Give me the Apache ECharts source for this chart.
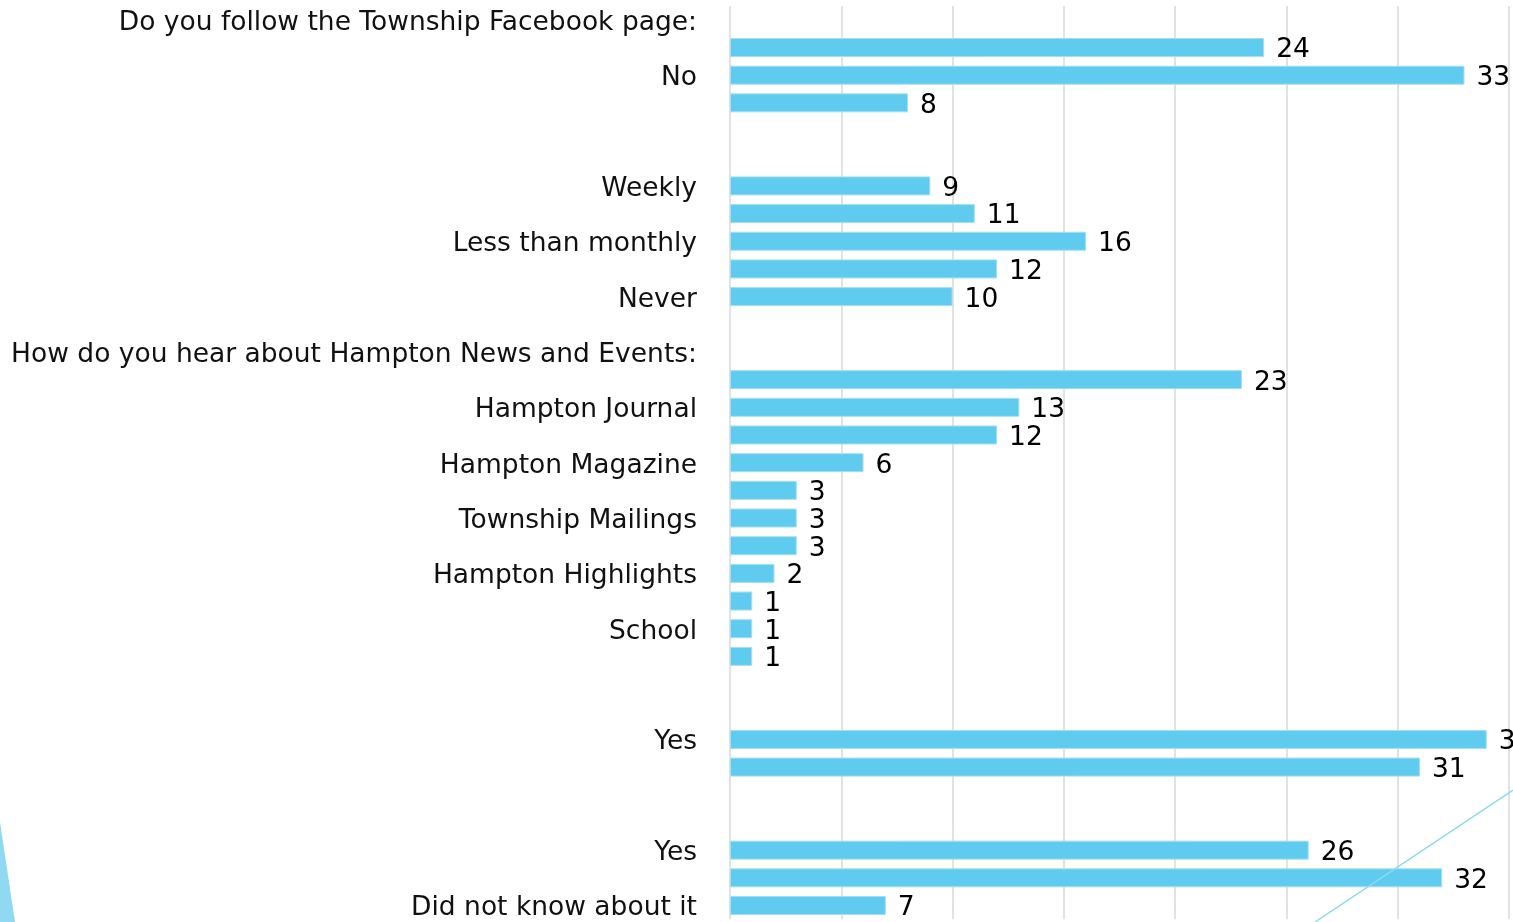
<!DOCTYPE html>
<html>
<head>
<meta charset="utf-8">
<script src="https://cdn.jsdelivr.net/npm/echarts@6/dist/echarts.min.js"></script>
<style>
html,body{margin:0;padding:0;background:#fff;}
#chart{width:1513px;height:922px;}
</style>
</head>
<body>
<div id="chart"></div>
<script>
// Categories, top to bottom (every other label is shown, as in the original)
const categories = [
  "Do you follow the Township Facebook page:",
  "Yes",
  "No",
  "Did not know about it ",
  "",
  "How often do you visit:",
  "Weekly",
  "Monthly",
  "Less than monthly",
  "Rarely",
  "Never",
  " ",
  "How do you hear about Hampton News and Events:",
  "Township Website",
  "Hampton Journal",
  "Facebook",
  "Hampton Magazine",
  "Newspaper",
  "Township Mailings",
  "Word of mouth",
  "Hampton Highlights",
  "Email",
  "School",
  "Other",
  "  ",
  "Question 3:",
  "Yes",
  "No",
  "   ",
  "Question 4:",
  "Yes",
  "No",
  "Did not know about it"
];
// Values ('-' = no bar)
const values = [
  '-', 24, 33, 8,
  '-', '-', 9, 11, 16, 12, 10,
  '-', '-', 23, 13, 12, 6, 3, 3, 3, 2, 1, 1, 1,
  '-', '-', 34, 31,
  '-', '-', 26, 32, 7
];
const xTicks = { min: 0, max: 35, interval: 5 };

const FONT = "'DejaVu Sans', sans-serif";
const chart = echarts.init(document.getElementById('chart'), null, { renderer: 'canvas' });
chart.setOption({
  backgroundColor: '#ffffff',
  animation: false,
  grid: { left: 730, right: 4, top: 6, bottom: 2, containLabel: false },
  xAxis: {
    type: 'value',
    min: xTicks.min, max: xTicks.max, interval: xTicks.interval,
    axisLabel: { show: false },
    axisLine: { show: false },
    axisTick: { show: false },
    splitLine: { show: true, lineStyle: { color: '#d9d9d9', width: 1.5 } }
  },
  yAxis: {
    type: 'category',
    inverse: true,
    data: categories,
    axisLine: { show: false },
    axisTick: { show: false },
    axisLabel: {
      interval: 1,
      margin: 33,
      color: '#111111',
      fontFamily: FONT,
      fontSize: 26.5,
      verticalAlign: 'top',
      lineHeight: 6
    }
  },
  series: [{
    type: 'bar',
    data: values,
    barWidth: 19,
    itemStyle: { color: '#5fcbef', borderColor: '#a5def4', borderWidth: 1 },
    label: {
      show: true,
      position: 'right',
      distance: 12,
      offset: [0, 3],
      color: '#000000',
      fontFamily: FONT,
      fontSize: 26.5
    }
  }],
  graphic: [
    {
      type: 'polygon',
      shape: { points: [[0, 822], [15, 922], [0, 922]] },
      style: { fill: '#8fd9f2' },
      z: 100
    },
    {
      type: 'line',
      shape: { x1: 1513, y1: 790, x2: 1315, y2: 922 },
      style: { stroke: '#8fd9f2', lineWidth: 1.5 },
      z: 100
    }
  ]
});
</script>
</body>
</html>
